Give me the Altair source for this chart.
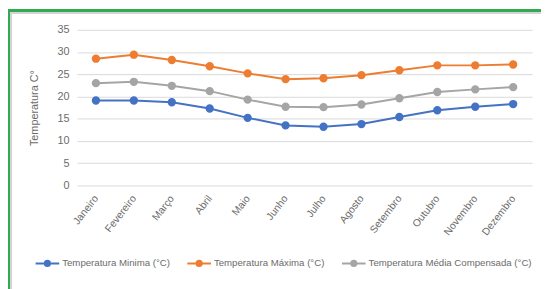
import altair as alt
import pandas as pd

meses = ["Janeiro", "Fevereiro", "Março", "Abril", "Maio", "Junho", "Julho",
         "Agosto", "Setembro", "Outubro", "Novembro", "Dezembro"]
t_min = [19.1, 19.1, 18.7, 17.3, 15.2, 13.5, 13.2, 13.8, 15.4, 16.9, 17.7, 18.3]
t_max = [28.5, 29.4, 28.2, 26.8, 25.2, 23.9, 24.1, 24.8, 25.9, 27.0, 27.0, 27.2]
t_med = [23.0, 23.3, 22.4, 21.2, 19.3, 17.7, 17.6, 18.2, 19.6, 21.0, 21.6, 22.1]
series = ["Temperatura Minima (°C)", "Temperatura Máxima (°C)",
          "Temperatura Média Compensada (°C)"]
colors = ["#4472C4", "#ED7D31", "#A5A5A5"]
y_ticks = [0, 5, 10, 15, 20, 25, 30, 35]

rows = []
for s, vals in zip(series, [t_min, t_max, t_med]):
    for m, v in zip(meses, vals):
        rows.append({"mes": m, "serie": s, "valor": v})
df = pd.DataFrame(rows)

FONT = "Liberation Sans, Arial, sans-serif"
TXT = "#6b6b6b"
W, H = 462, 158

sym = ("M-1,0L-0.22,0M0.22,0L1,0"
       "M-0.22,0A0.22,0.22 0 1,1 0.22,0A0.22,0.22 0 1,1 -0.22,0Z")

x = alt.X("mes:N", sort=meses, title=None,
          scale=alt.Scale(paddingInner=0, paddingOuter=0),
          axis=alt.Axis(labelAngle=-52, labelAlign="right", labelBaseline="middle",
                        labelPadding=11, ticks=False, domain=False, grid=False,
                        labelFontSize=10.5, labelColor=TXT, labelFont=FONT))
y = alt.Y("valor:Q", title="Temperatura C°",
          scale=alt.Scale(domain=[0, 35], nice=False),
          axis=alt.Axis(values=y_ticks, ticks=False, domain=False, grid=True,
                        gridColor="#d9d9d9", gridWidth=1, labelPadding=8,
                        labelFontSize=11, labelColor=TXT, labelFont=FONT,
                        titleFontSize=11, titleFont=FONT, titleColor=TXT,
                        titleFontWeight="normal", titlePadding=18))

sc = alt.Scale(domain=series, range=colors)
leg = alt.Legend(title=None, orient="none", direction="horizontal",
                 legendX=-43, legendY=224, symbolType=sym, symbolSize=576,
                 symbolStrokeWidth=2, labelFontSize=9.8, labelFont=FONT,
                 labelColor=TXT, columnPadding=13, labelOffset=2,
                 labelLimit=300)

lines = alt.Chart(df).mark_line(strokeWidth=2).encode(
    x=x, y=y,
    stroke=alt.Stroke("serie:N", sort=series, scale=sc, legend=leg),
)
pts = alt.Chart(df).mark_point(filled=True, size=42, opacity=1).encode(
    x=x, y=y,
    fill=alt.Fill("serie:N", sort=series, scale=sc, legend=leg),
    stroke=alt.Stroke("serie:N", sort=series, scale=sc, legend=leg),
)

# decorative frame (outer green border and inner light border)
frame_outer = alt.Chart(df).mark_rect(fill=None, stroke="#34a853", strokeWidth=2.5).encode(
    x=alt.value(-69.5), x2=alt.value(W + 40), y=alt.value(-19.5), y2=alt.value(H + 130))
frame_inner = alt.Chart(df).mark_rect(fill=None, stroke="#d4d4d4", strokeWidth=1.5).encode(
    x=alt.value(-67), x2=alt.value(W + 40), y=alt.value(-17), y2=alt.value(H + 130))

chart = alt.layer(lines, pts, frame_outer, frame_inner).properties(
    width=W, height=H,
    autosize=alt.AutoSizeParams(type="none"),
    padding={"left": 70, "top": 20, "right": 9, "bottom": 103},
    background="white",
).configure_view(stroke=None)

chart.save("out.html", embed_options={"renderer": "svg", "actions": False})
